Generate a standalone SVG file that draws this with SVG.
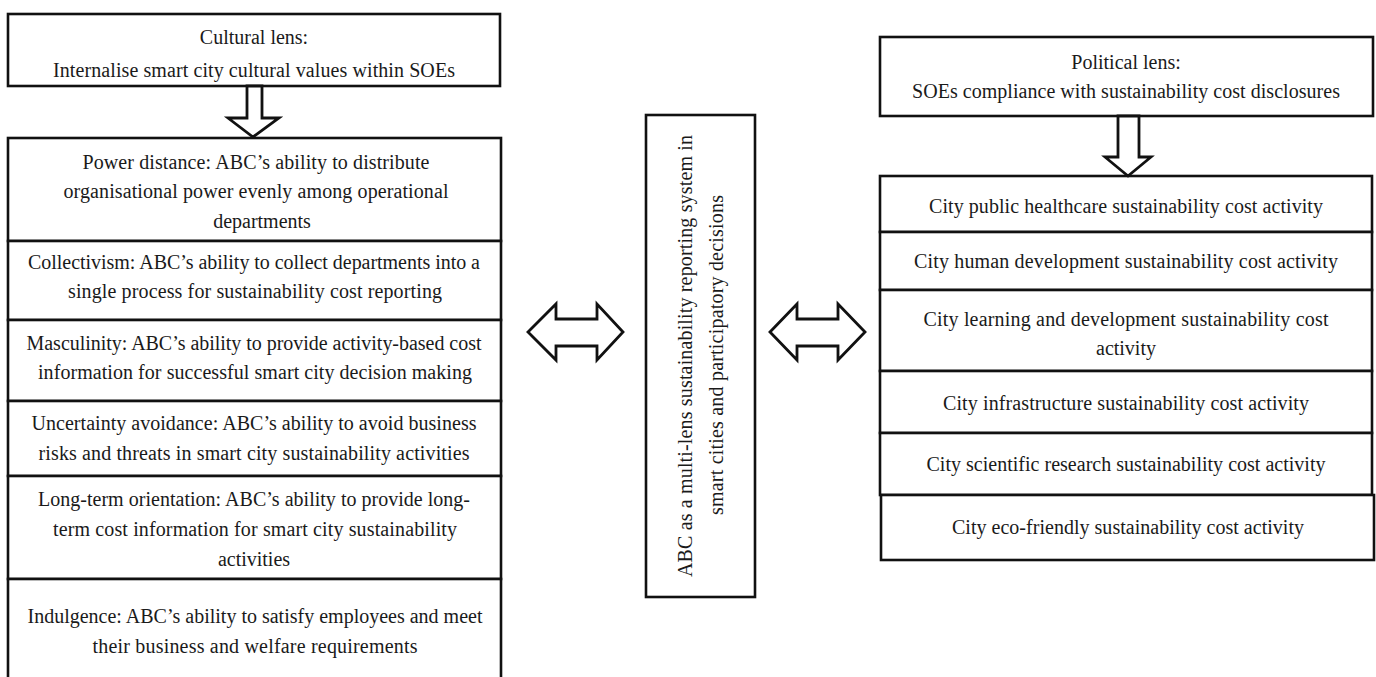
<svg xmlns="http://www.w3.org/2000/svg" width="1376" height="677" viewBox="0 0 1376 677">
<style>
  .box { fill: #fff; stroke: #111; stroke-width: 2.6; }
  .arr { fill: #fff; stroke: #111; stroke-width: 2.8; stroke-linejoin: miter; }
  text { font-family: "Liberation Serif", "Times New Roman", serif; font-size: 20px; fill: #1a1a1a; text-anchor: middle; }
</style>
<rect x="0" y="0" width="1376" height="677" fill="#fff"/>

<g id="cultural-lens">
  <rect class="box" x="8" y="14" width="492" height="72"/>
  <text x="254" y="44">Cultural lens:</text>
  <text x="254" y="77" textLength="402">Internalise smart city cultural values within SOEs</text>
</g>

<g id="power-distance">
  <rect class="box" x="8" y="138" width="493" height="103"/>
  <text x="256" y="169" textLength="347">Power distance: ABC’s ability to distribute</text>
  <text x="256" y="198" textLength="385">organisational power evenly among operational</text>
  <text x="262" y="228">departments</text>
</g>

<g id="collectivism">
  <rect class="box" x="8" y="241" width="493" height="79"/>
  <text x="254" y="269" textLength="452">Collectivism: ABC’s ability to collect departments into a</text>
  <text x="255" y="298" textLength="374">single process for sustainability cost reporting</text>
</g>

<g id="masculinity">
  <rect class="box" x="8" y="320" width="493" height="81"/>
  <text x="254" y="350" textLength="455">Masculinity: ABC’s ability to provide activity-based cost</text>
  <text x="255" y="379" textLength="434">information for successful smart city decision making</text>
</g>

<g id="uncertainty-avoidance">
  <rect class="box" x="8" y="401" width="493" height="75"/>
  <text x="254" y="430" textLength="445">Uncertainty avoidance: ABC’s ability to avoid business</text>
  <text x="254" y="460" textLength="431">risks and threats in smart city sustainability activities</text>
</g>

<g id="long-term-orientation">
  <rect class="box" x="8" y="476" width="493" height="103"/>
  <text x="254" y="506" textLength="432">Long-term orientation: ABC’s ability to provide long-</text>
  <text x="255" y="536" textLength="404">term cost information for smart city sustainability</text>
  <text x="254" y="566">activities</text>
</g>

<g id="indulgence">
  <rect class="box" x="8" y="579" width="493" height="110"/>
  <text x="255" y="623" textLength="455">Indulgence: ABC’s ability to satisfy employees and meet</text>
  <text x="255" y="653" textLength="325">their business and welfare requirements</text>
</g>

<g id="abc-system">
  <rect class="box" x="646" y="115" width="109" height="482"/>
  <text transform="translate(692,356) rotate(-90)" textLength="442">ABC as a multi-lens sustainability reporting system in</text>
  <text transform="translate(723,355) rotate(-90)" textLength="320">smart cities and participatory decisions</text>
</g>

<g id="political-lens">
  <rect class="box" x="880" y="37" width="493" height="79"/>
  <text x="1126" y="69">Political lens:</text>
  <text x="1126" y="98" textLength="428">SOEs compliance with sustainability cost disclosures</text>
</g>

<g id="public-healthcare">
  <rect class="box" x="880" y="176" width="492" height="56"/>
  <text x="1126" y="213" textLength="394">City public healthcare sustainability cost activity</text>
</g>

<g id="human-development">
  <rect class="box" x="880" y="232" width="492" height="58"/>
  <text x="1126" y="268" textLength="424">City human development sustainability cost activity</text>
</g>

<g id="learning-development">
  <rect class="box" x="880" y="290" width="492" height="81"/>
  <text x="1126" y="326" textLength="405">City learning and development sustainability cost</text>
  <text x="1126" y="355">activity</text>
</g>

<g id="infrastructure">
  <rect class="box" x="880" y="371" width="492" height="62"/>
  <text x="1126" y="410" textLength="366">City infrastructure sustainability cost activity</text>
</g>

<g id="scientific-research">
  <rect class="box" x="880" y="433" width="492" height="62"/>
  <text x="1126" y="471" textLength="399">City scientific research sustainability cost activity</text>
</g>

<g id="eco-friendly">
  <rect class="box" x="881" y="495" width="493" height="65"/>
  <text x="1128" y="534" textLength="352">City eco-friendly sustainability cost activity</text>
</g>

<g id="connectors">
  <polygon class="arr" points="247,86 262,86 262,118 279,118 253,137 228,118 247,118"/>
  <polygon class="arr" points="1118,116 1139,116 1139,157 1151,157 1128,176 1105,157 1118,157"/>
  <polygon class="arr" points="528,332 556,304 556,319 597,319 597,304 623,332 597,360 597,346 556,346 556,360"/>
  <polygon class="arr" points="770,332 797,304 797,319 838,319 838,304 865,332 838,360 838,346 797,346 797,360"/>
</g>
</svg>
